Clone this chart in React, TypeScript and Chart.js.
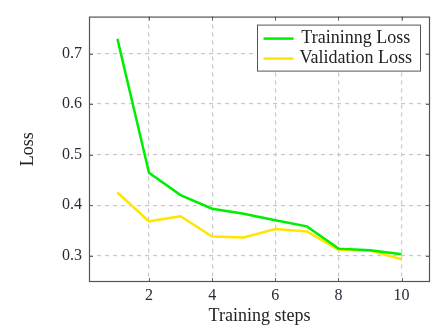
import React, { useEffect, useRef } from 'react';
import { Chart, registerables } from 'chart.js';

Chart.register(...registerables);

const steps = [1, 2, 3, 4, 5, 6, 7, 8, 9, 10];
const trainingLoss = [0.729, 0.464, 0.42, 0.393, 0.383, 0.37, 0.358, 0.314, 0.311, 0.303];
const validationLoss = [0.425, 0.368, 0.378, 0.338, 0.336, 0.353, 0.348, 0.312, 0.31, 0.293];
const xTickValues = [2, 4, 6, 8, 10];
const yTickValues = [0.3, 0.4, 0.5, 0.6, 0.7];
const seriesNames = ['Traininng Loss', 'Validation Loss'];
const seriesColors = ['#00ee00', '#ffe500'];
const xTitle = 'Training steps';
const yTitle = 'Loss';

const FONT = "'Liberation Serif', 'Times New Roman', serif";

const framePlugin = {
  id: 'frame',
  afterDatasetsDraw(chart: any) {
    const { ctx, chartArea, scales } = chart;
    const { left, right, top, bottom } = chartArea;
    ctx.save();
    ctx.strokeStyle = '#666';
    ctx.lineWidth = 1;
    const tl = 4;
    ctx.beginPath();
    xTickValues.forEach((v) => {
      const px = Math.round(scales.x.getPixelForValue(v)) + 0.5;
      ctx.moveTo(px, bottom);
      ctx.lineTo(px, bottom - tl);
      ctx.moveTo(px, top);
      ctx.lineTo(px, top + tl);
    });
    yTickValues.forEach((v) => {
      const py = Math.round(scales.y.getPixelForValue(v)) + 0.5;
      ctx.moveTo(left, py);
      ctx.lineTo(left + tl, py);
      ctx.moveTo(right, py);
      ctx.lineTo(right - tl, py);
    });
    ctx.stroke();
    ctx.strokeStyle = '#555';
    ctx.lineWidth = 1.2;
    ctx.strokeRect(left + 0.5, top + 0.5, right - left - 1, bottom - top - 1);

    // legend
    ctx.font = `18px ${FONT}`;
    const textW = Math.max(...seriesNames.map((s) => ctx.measureText(s).width));
    const sampleW = 30;
    const padL = 7;
    const gap = 6;
    const padR = 8;
    const rowH = 20;
    const boxW = padL + sampleW + gap + textW + padR;
    const boxH = 46;
    const boxRight = right - 10;
    const boxTop = top + 8;
    const boxLeft = boxRight - boxW;
    ctx.fillStyle = '#fff';
    ctx.fillRect(boxLeft, boxTop, boxW, boxH);
    ctx.strokeStyle = '#555';
    ctx.lineWidth = 1;
    ctx.strokeRect(Math.round(boxLeft) + 0.5, boxTop + 0.5, Math.round(boxW), boxH);
    seriesNames.forEach((name, i) => {
      const cy = boxTop + 14 + i * rowH;
      ctx.strokeStyle = seriesColors[i];
      ctx.lineWidth = 2.5;
      ctx.beginPath();
      ctx.moveTo(boxLeft + padL, cy);
      ctx.lineTo(boxLeft + padL + sampleW, cy);
      ctx.stroke();
      ctx.fillStyle = '#222';
      ctx.textAlign = 'center';
      ctx.textBaseline = 'middle';
      ctx.fillText(name, boxLeft + padL + sampleW + gap + textW / 2, cy);
    });
    ctx.restore();
  },
};

export default function App() {
  const ref = useRef<HTMLCanvasElement | null>(null);
  useEffect(() => {
    if (!ref.current) return;
    const chart = new Chart(ref.current, {
      type: 'line',
      data: {
        datasets: [
          {
            label: seriesNames[0],
            data: steps.map((s, i) => ({ x: s, y: trainingLoss[i] })),
            borderColor: seriesColors[0],
            borderWidth: 2.5,
            pointRadius: 0,
            tension: 0,
          },
          {
            label: seriesNames[1],
            data: steps.map((s, i) => ({ x: s, y: validationLoss[i] })),
            borderColor: seriesColors[1],
            borderWidth: 2.5,
            pointRadius: 0,
            tension: 0,
          },
        ],
      },
      options: {
        animation: false,
        responsive: false,
        layout: { padding: { left: 0, top: 16, right: 6, bottom: 0 } },
        plugins: { legend: { display: false }, tooltip: { enabled: false } },
        scales: {
          x: {
            type: 'linear',
            min: 0.1,
            max: 10.9,
            afterBuildTicks: (scale: any) => {
              scale.ticks = xTickValues.map((v) => ({ value: v }));
            },
            afterFit: (scale: any) => {
              scale.height = 45;
            },
            grid: { color: '#c8c8c8', lineWidth: 1.2, drawTicks: false },
            border: { display: false, dash: [4, 4] },
            ticks: {
              padding: 4,
              color: '#2a2a3a',
              font: { family: FONT, size: 16 },
              maxRotation: 0,
              callback: (v: any) => String(v),
            },
            title: {
              display: true,
              text: xTitle,
              color: '#222',
              font: { family: FONT, size: 18 },
              padding: { top: 0, bottom: 0 },
            },
          },
          y: {
            type: 'linear',
            min: 0.248,
            max: 0.773,
            afterBuildTicks: (scale: any) => {
              scale.ticks = yTickValues.map((v) => ({ value: v }));
            },
            afterFit: (scale: any) => {
              scale.width = 89;
            },
            grid: { color: '#c8c8c8', lineWidth: 1.2, drawTicks: false },
            border: { display: false, dash: [4, 4] },
            ticks: {
              padding: 7,
              color: '#2a2a3a',
              font: { family: FONT, size: 16 },
              callback: (v: any) => Number(v).toFixed(1),
            },
            title: {
              display: true,
              text: yTitle,
              color: '#222',
              font: { family: FONT, size: 18 },
              padding: { top: 17, bottom: 0 },
            },
          },
        },
      },
      plugins: [framePlugin],
    });
    return () => chart.destroy();
  }, []);
  return (
    <div style={{ position: 'fixed', left: 0, top: 0, width: 436, height: 327, background: '#fff' }}>
      <canvas ref={ref} width={436} height={327} />
    </div>
  );
}
